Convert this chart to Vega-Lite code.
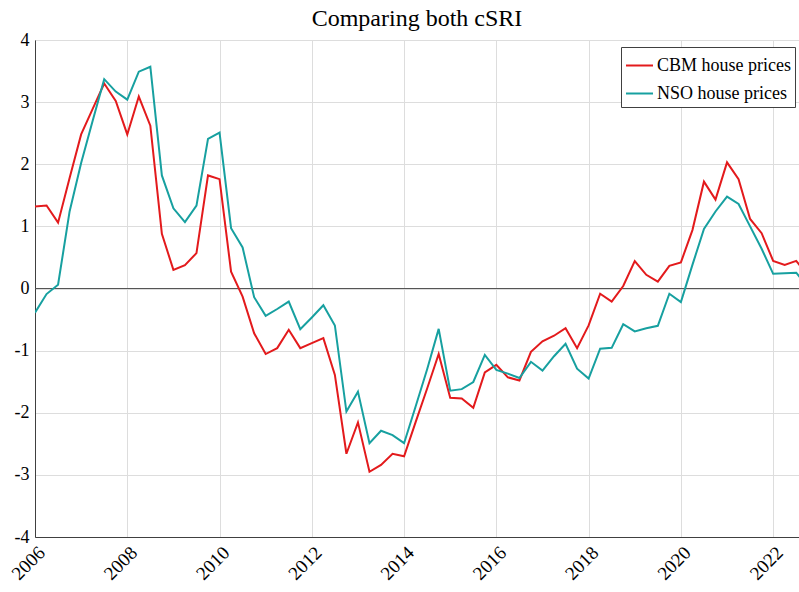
{
  "$schema": "https://vega.github.io/schema/vega-lite/v6.json",
  "width": 764,
  "height": 497,
  "autosize": {"type": "none"},
  "padding": {"left": 35, "top": 40, "right": 0, "bottom": 55},
  "background": "white",
  "title": {
    "text": "Comparing both cSRI",
    "font": "Liberation Serif",
    "fontSize": 24,
    "fontWeight": "normal",
    "color": "#000000",
    "anchor": "middle",
    "offset": 0
  },
  "config": {
    "view": {"stroke": "#404040", "strokeWidth": 1},
    "axis": {
      "labelFont": "Liberation Serif",
      "labelFontSize": 18,
      "labelColor": "#000000",
      "domainColor": "#404040",
      "domainWidth": 1,
      "gridColor": "#dddddd",
      "gridWidth": 1,
      "ticks": false,
      "title": null
    }
  },
  "data": {
    "values": [
      {"date": 2006.00, "CBM house prices": 1.32, "NSO house prices": -0.39},
      {"date": 2006.25, "CBM house prices": 1.335, "NSO house prices": -0.09},
      {"date": 2006.50, "CBM house prices": 1.06, "NSO house prices": 0.06},
      {"date": 2006.75, "CBM house prices": 1.78, "NSO house prices": 1.24},
      {"date": 2007.00, "CBM house prices": 2.48, "NSO house prices": 2.02},
      {"date": 2007.25, "CBM house prices": 2.89, "NSO house prices": 2.70},
      {"date": 2007.50, "CBM house prices": 3.30, "NSO house prices": 3.37},
      {"date": 2007.75, "CBM house prices": 3.02, "NSO house prices": 3.17},
      {"date": 2008.00, "CBM house prices": 2.48, "NSO house prices": 3.04},
      {"date": 2008.25, "CBM house prices": 3.09, "NSO house prices": 3.49},
      {"date": 2008.50, "CBM house prices": 2.62, "NSO house prices": 3.57},
      {"date": 2008.75, "CBM house prices": 0.88, "NSO house prices": 1.82},
      {"date": 2009.00, "CBM house prices": 0.30, "NSO house prices": 1.29},
      {"date": 2009.25, "CBM house prices": 0.376, "NSO house prices": 1.07},
      {"date": 2009.50, "CBM house prices": 0.57, "NSO house prices": 1.335},
      {"date": 2009.75, "CBM house prices": 1.82, "NSO house prices": 2.41},
      {"date": 2010.00, "CBM house prices": 1.76, "NSO house prices": 2.51},
      {"date": 2010.25, "CBM house prices": 0.27, "NSO house prices": 0.97},
      {"date": 2010.50, "CBM house prices": -0.13, "NSO house prices": 0.66},
      {"date": 2010.75, "CBM house prices": -0.72, "NSO house prices": -0.14},
      {"date": 2011.00, "CBM house prices": -1.055, "NSO house prices": -0.44},
      {"date": 2011.25, "CBM house prices": -0.96, "NSO house prices": -0.33},
      {"date": 2011.50, "CBM house prices": -0.665, "NSO house prices": -0.21},
      {"date": 2011.75, "CBM house prices": -0.96, "NSO house prices": -0.655},
      {"date": 2012.00, "CBM house prices": -0.88, "NSO house prices": -0.466},
      {"date": 2012.25, "CBM house prices": -0.80, "NSO house prices": -0.27},
      {"date": 2012.50, "CBM house prices": -1.39, "NSO house prices": -0.595},
      {"date": 2012.75, "CBM house prices": -2.66, "NSO house prices": -1.98},
      {"date": 2013.00, "CBM house prices": -2.155, "NSO house prices": -1.66},
      {"date": 2013.25, "CBM house prices": -2.95, "NSO house prices": -2.49},
      {"date": 2013.50, "CBM house prices": -2.84, "NSO house prices": -2.29},
      {"date": 2013.75, "CBM house prices": -2.66, "NSO house prices": -2.36},
      {"date": 2014.00, "CBM house prices": -2.70, "NSO house prices": -2.49},
      {"date": 2014.25, "CBM house prices": -2.15, "NSO house prices": -1.90},
      {"date": 2014.50, "CBM house prices": -1.61, "NSO house prices": -1.30},
      {"date": 2014.75, "CBM house prices": -1.055, "NSO house prices": -0.65},
      {"date": 2015.00, "CBM house prices": -1.76, "NSO house prices": -1.645},
      {"date": 2015.25, "CBM house prices": -1.77, "NSO house prices": -1.62},
      {"date": 2015.50, "CBM house prices": -1.92, "NSO house prices": -1.505},
      {"date": 2015.75, "CBM house prices": -1.35, "NSO house prices": -1.07},
      {"date": 2016.00, "CBM house prices": -1.23, "NSO house prices": -1.31},
      {"date": 2016.25, "CBM house prices": -1.43, "NSO house prices": -1.37},
      {"date": 2016.50, "CBM house prices": -1.48, "NSO house prices": -1.44},
      {"date": 2016.75, "CBM house prices": -1.02, "NSO house prices": -1.18},
      {"date": 2017.00, "CBM house prices": -0.85, "NSO house prices": -1.32},
      {"date": 2017.25, "CBM house prices": -0.76, "NSO house prices": -1.09},
      {"date": 2017.50, "CBM house prices": -0.64, "NSO house prices": -0.89},
      {"date": 2017.75, "CBM house prices": -0.96, "NSO house prices": -1.29},
      {"date": 2018.00, "CBM house prices": -0.595, "NSO house prices": -1.45},
      {"date": 2018.25, "CBM house prices": -0.085, "NSO house prices": -0.97},
      {"date": 2018.50, "CBM house prices": -0.21, "NSO house prices": -0.955},
      {"date": 2018.75, "CBM house prices": 0.04, "NSO house prices": -0.575},
      {"date": 2019.00, "CBM house prices": 0.44, "NSO house prices": -0.69},
      {"date": 2019.25, "CBM house prices": 0.22, "NSO house prices": -0.64},
      {"date": 2019.50, "CBM house prices": 0.11, "NSO house prices": -0.60},
      {"date": 2019.75, "CBM house prices": 0.365, "NSO house prices": -0.085},
      {"date": 2020.00, "CBM house prices": 0.42, "NSO house prices": -0.22},
      {"date": 2020.25, "CBM house prices": 0.94, "NSO house prices": 0.38},
      {"date": 2020.50, "CBM house prices": 1.72, "NSO house prices": 0.96},
      {"date": 2020.75, "CBM house prices": 1.43, "NSO house prices": 1.24},
      {"date": 2021.00, "CBM house prices": 2.03, "NSO house prices": 1.48},
      {"date": 2021.25, "CBM house prices": 1.76, "NSO house prices": 1.36},
      {"date": 2021.50, "CBM house prices": 1.12, "NSO house prices": 1.00},
      {"date": 2021.75, "CBM house prices": 0.89, "NSO house prices": 0.64},
      {"date": 2022.00, "CBM house prices": 0.445, "NSO house prices": 0.236},
      {"date": 2022.25, "CBM house prices": 0.38, "NSO house prices": 0.245},
      {"date": 2022.50, "CBM house prices": 0.445, "NSO house prices": 0.255},
      {"date": 2022.75, "CBM house prices": 0.215, "NSO house prices": 0.02}
    ]
  },
  "layer": [
    {
      "mark": {"type": "rule", "color": "#555555", "strokeWidth": 1},
      "encoding": {"y": {"datum": 0, "type": "quantitative"}}
    },
    {
      "transform": [
        {"fold": ["CBM house prices", "NSO house prices"], "as": ["series", "value"]}
      ],
      "mark": {"type": "line", "strokeWidth": 2, "clip": true},
      "encoding": {
        "x": {
          "field": "date",
          "type": "quantitative",
          "scale": {"domain": [2006, 2022.56], "nice": false, "zero": false},
          "axis": {
            "values": [2006, 2008, 2010, 2012, 2014, 2016, 2018, 2020, 2022],
            "labelExpr": "toString(datum.value)",
            "labelAngle": -45,
            "labelFontSize": 19,
            "labelPadding": 6,
            "grid": true
          }
        },
        "y": {
          "field": "value",
          "type": "quantitative",
          "scale": {"domain": [-4, 4], "nice": false},
          "axis": {
            "values": [-4, -3, -2, -1, 0, 1, 2, 3, 4],
            "labelExpr": "toString(datum.value)",
            "labelPadding": 6,
            "grid": true
          }
        },
        "color": {
          "field": "series",
          "type": "nominal",
          "scale": {
            "domain": ["CBM house prices", "NSO house prices"],
            "range": ["#e31a1c", "#17a0a0"]
          },
          "legend": {
            "title": null,
            "orient": "none",
            "legendX": 586,
            "legendY": 7,
            "symbolType": "stroke",
            "symbolSize": 729,
            "symbolStrokeWidth": 2,
            "labelFont": "Liberation Serif",
            "labelFontSize": 18,
            "labelColor": "#000000",
            "labelOffset": 3,
            "rowPadding": 4,
            "padding": 4,
            "strokeColor": "#404040",
            "fillColor": "white"
          }
        }
      }
    }
  ]
}
